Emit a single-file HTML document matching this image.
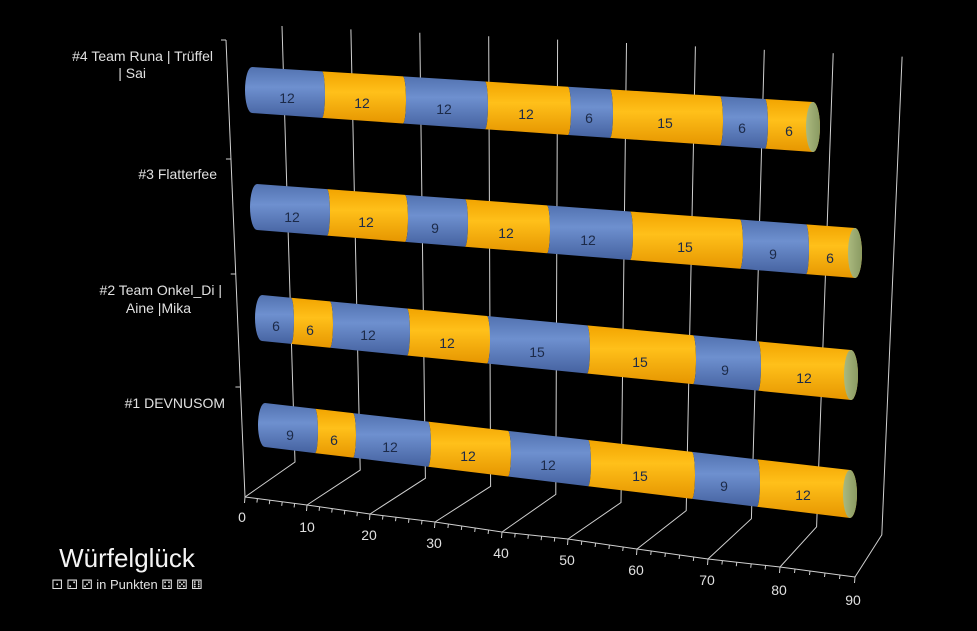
<!DOCTYPE html>
<html><head><meta charset="utf-8"><style>
html,body{margin:0;padding:0;background:#000;}
svg{display:block;}
.t{font-family:"Liberation Sans","DejaVu Sans",sans-serif;}
</style></head><body>
<svg id="s" width="977" height="631" viewBox="0 0 977 631" xmlns="http://www.w3.org/2000/svg">
<defs>
<linearGradient id="gb" x1="0" y1="0" x2="0" y2="1">
<stop offset="0" stop-color="#5272b0"/><stop offset="0.4" stop-color="#6e90cf"/><stop offset="1" stop-color="#4562a0"/></linearGradient>
<linearGradient id="go" x1="0" y1="0" x2="0" y2="1">
<stop offset="0" stop-color="#f2a400"/><stop offset="0.4" stop-color="#ffc01a"/><stop offset="1" stop-color="#e69600"/></linearGradient>
<linearGradient id="gc" x1="0" y1="0" x2="1" y2="0">
<stop offset="0" stop-color="#aab97e"/><stop offset="1" stop-color="#8a9a62"/></linearGradient>
</defs>
<g id="grid" stroke="#d0d0d0" stroke-width="1" fill="none"></g>
<g id="cyl"></g>
<g class="t" font-size="14" fill="#1c2a48" text-anchor="middle">
<text x="290" y="440">9</text><text x="334" y="445">6</text><text x="390" y="452">12</text><text x="468" y="461">12</text><text x="548" y="470">12</text><text x="640" y="481">15</text><text x="724" y="491">9</text><text x="803" y="500">12</text>
<text x="276" y="331">6</text><text x="310" y="335">6</text><text x="368" y="340">12</text><text x="447" y="348">12</text><text x="537" y="357">15</text><text x="640" y="367">15</text><text x="725" y="375">9</text><text x="804" y="383">12</text>
<text x="292" y="222">12</text><text x="366" y="227">12</text><text x="435" y="233">9</text><text x="506" y="238">12</text><text x="588" y="245">12</text><text x="685" y="252">15</text><text x="773" y="259">9</text><text x="830" y="263">6</text>
<text x="287" y="103">12</text><text x="362" y="108">12</text><text x="444" y="114">12</text><text x="526" y="119">12</text><text x="589" y="123">6</text><text x="665" y="128">15</text><text x="742" y="133">6</text><text x="789" y="136">6</text>
</g>
<g class="t" font-size="14" fill="#e0e0e0" text-anchor="middle">
<text x="242" y="522">0</text><text x="307" y="532">10</text><text x="369" y="540">20</text><text x="434" y="548">30</text><text x="501" y="558">40</text><text x="567" y="565">50</text><text x="636" y="575">60</text><text x="707" y="585">70</text><text x="779" y="595">80</text><text x="853" y="605">90</text>
</g>
<g class="t" font-size="14" fill="#e0e0e0" text-anchor="end">
<text x="213" y="61">#4 Team Runa | Trüffel</text>
<text x="146" y="78">| Sai</text>
<text x="217" y="179">#3 Flatterfee</text>
<text x="222" y="295">#2 Team Onkel_Di |</text>
<text x="191" y="313">Aine |Mika</text>
<text x="225" y="408">#1 DEVNUSOM</text>
</g>
<text class="t" x="127" y="567" font-size="26" fill="#f4f4f4" text-anchor="middle">Würfelglück</text>
<text class="t" x="127" y="589" font-size="13" fill="#e0e0e0" text-anchor="middle">⚀ ⚁ ⚂ in Punkten ⚃ ⚄ ⚅</text>
</svg>
<script>
var NS="http://www.w3.org/2000/svg";
function el(p,n,a){var e=document.createElementNS(NS,n);for(var k in a)e.setAttribute(k,a[k]);p.appendChild(e);return e;}
var g=document.getElementById('grid');
var FX=[245,307,370,435,502,568,637,708,780,855],FY=[497,505,514,522,532,539,549,559,567,577];
for(var i=0;i<10;i++){
 var v=i*10;
 var tx=282+6.89*v,ty=26+0.34*v,bx=295+6.52*v,by=462+0.81*v;
 el(g,'polyline',{points:tx+','+ty+' '+bx+','+by+' '+FX[i]+','+FY[i]});
}
el(g,'line',{x1:226,y1:40,x2:245,y2:497});
[40,159,274,387].forEach(function(y){var x=226+(y-40)*19/457;el(g,'line',{x1:x-5,y1:y,x2:x,y2:y});});
el(g,'polyline',{points:FX.map(function(x,i){return x+','+FY[i];}).join(' ')});
for(var i=0;i<9;i++){for(var j=0;j<5;j++){var t=j/5;var x=FX[i]+(FX[i+1]-FX[i])*t,y=FY[i]+(FY[i+1]-FY[i])*t;el(g,'line',{x1:x,y1:y,x2:x-0.5,y2:y+(j==0?6:4)});}}
el(g,'line',{x1:855,y1:577,x2:854.5,y2:583});
var rows=[
 {xs:[252,322,403,485,568,610,720,765,813],y0:90,y1:127,h0:23,h1:25},
 {xs:[257,327,405,465,547,630,740,806,855],y0:207,y1:253,h0:23,h1:25},
 {xs:[262,291,330,407,487,587,693,758,851],y0:318,y1:375,h0:23,h1:25},
 {xs:[265,315,353,428,508,588,692,757,850],y0:425,y1:494,h0:22,h1:24}];
var cg=document.getElementById('cyl');
rows.forEach(function(r){
 var xs=r.xs,x0=xs[0],x1=xs[8];
 function Y(x){return r.y0+(x-x0)*(r.y1-r.y0)/(x1-x0);}
 function H(x){return r.h0+(x-x0)*(r.h1-r.h0)/(x1-x0);}
 for(var i=0;i<8;i++){
  var a=xs[i],b=xs[i+1],ya=Y(a),yb=Y(b),ha=H(a),hb=H(b);
  var ra=(i==0)?7:3, rb=(i==7)?7:3;
  var d='M'+a+','+(ya-ha)+' L'+b+','+(yb-hb)+' A'+rb+','+hb+' 0 0 1 '+b+','+(yb+hb)+' L'+a+','+(ya+ha)+' A'+ra+','+ha+' 0 0 '+(i==0?1:0)+' '+a+','+(ya-ha)+'Z';
  el(cg,'path',{d:d,fill:(i%2==0)?'url(#gb)':'url(#go)'});
 }
 el(cg,'ellipse',{cx:x1,cy:Y(x1),rx:7,ry:H(x1),fill:'url(#gc)'});
});
</script>
</body></html>
